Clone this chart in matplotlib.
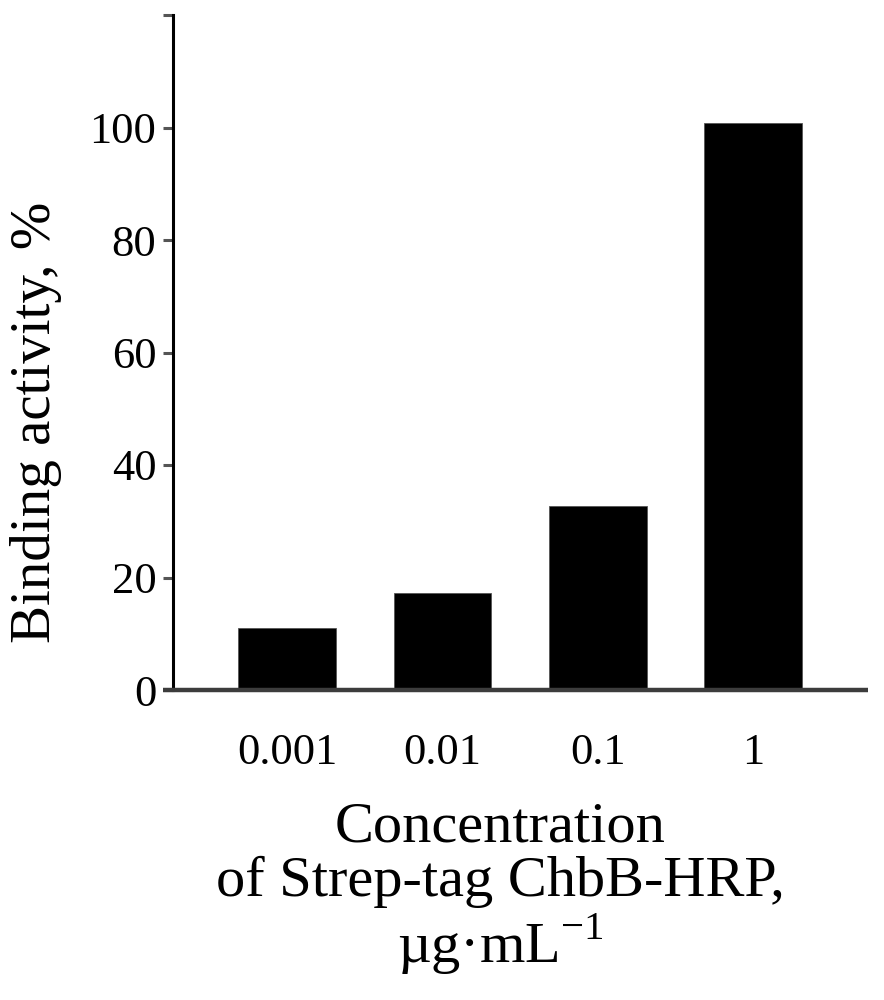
import matplotlib
matplotlib.use("Agg")
import matplotlib.pyplot as plt

plt.rcParams['font.family'] = ['Liberation Serif', 'DejaVu Serif']
plt.rcParams['mathtext.fontset'] = 'custom'
plt.rcParams['mathtext.rm'] = 'Liberation Serif'

categories = ["0.001", "0.01", "0.1", "1"]
values = [11.0, 17.2, 32.7, 100.8]
yticks = [0, 20, 40, 60, 80, 100, 120]
ytick_labels = ["0", "20", "40", "60", "80", "100", ""]

W, H = 884, 1000
fig = plt.figure(figsize=(W / 100, H / 100), dpi=100)
ax = fig.add_axes([173 / W, 1 - 690 / H, (868 - 173) / W, (690 - 15) / H])

x = list(range(len(categories)))
ax.bar(x, values, width=0.63, color='black', edgecolor='#555555', linewidth=0.6, zorder=2)

ax.set_xlim(-0.735, 3.74)
ax.set_ylim(0, 120)
ax.set_yticks(yticks)
ax.set_yticklabels(ytick_labels)
ax.set_xticks(x)
ax.set_xticklabels(categories)

for s in ['top', 'right', 'bottom']:
    ax.spines[s].set_visible(False)
ax.spines['left'].set_linewidth(2.2)
ax.spines['left'].set_color('black')

# x-axis line extending slightly left of the y-axis
ax.plot([-0.015, 1.0], [0, 0], transform=ax.get_yaxis_transform(),
        color='#3c3c3c', linewidth=3.2, clip_on=False, zorder=3, solid_capstyle='butt')

ax.tick_params(axis='y', direction='out', length=7, width=2.2, color='#555555',
               labelsize=32, pad=5)
ax.tick_params(axis='x', length=0, labelsize=32, pad=31)

ax.set_ylabel("Binding activity, %", fontsize=41, va='center', ha='center')
ax.yaxis.set_label_coords((36 - 173) / 695, (690 - 422) / 675)

fig.text(500 / W, 1 - 802 / H,
         "Concentration\nof Strep-tag ChbB-HRP,\nµg·mL$^{\\mathregular{-1}}$",
         ha='center', va='top', fontsize=42, linespacing=1.05, multialignment='center')

fig.savefig("out.png", dpi=100)
